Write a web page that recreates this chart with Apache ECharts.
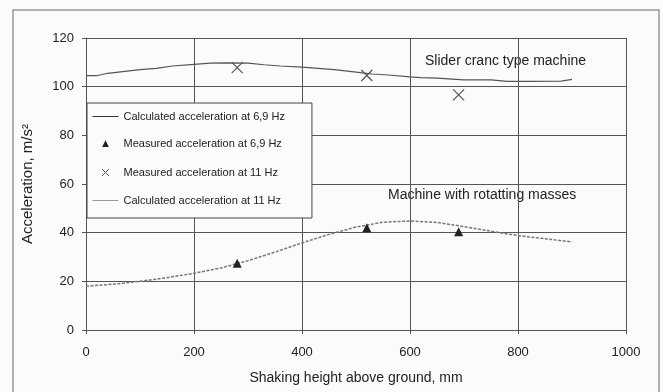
<!DOCTYPE html>
<html><head><meta charset="utf-8">
<script src="https://cdn.jsdelivr.net/npm/echarts@6/dist/echarts.min.js"></script>
<style>html,body{margin:0;padding:0;background:#fbfbfb;}#c{width:663px;height:392px;}</style>
</head><body><div id="c"></div>
<script>
// Data
const calc11Hz = [[0,104.5],[20,104.5],[40,105.5],[60,106],[80,106.5],[100,107],[130,107.5],[160,108.5],[200,109.2],[230,109.7],[260,109.8],[300,109.7],[330,109],[360,108.5],[400,108],[430,107.5],[460,107],[500,106],[530,105.2],[560,104.8],[600,104],[620,103.7],[650,103.5],[700,102.8],[750,102.8],[780,102.2],[820,102.2],[880,102.3],[900,103]];
const calc69Hz = [[0,18],[30,18.5],[60,19],[100,20],[150,21.5],[200,23.3],[250,25.5],[300,28.5],[350,32],[400,35.8],[450,39.3],[500,42.3],[550,44.3],[600,44.8],[650,44.2],[700,42.5],[750,40.6],[800,38.8],[850,37.5],[900,36.2]];
const meas69Hz = [[280,27.4],[520,42],[690,40.4]];
const meas11Hz = [[280,107.8],[520,104.6],[690,96.6]];
const seriesNames = ['Calculated acceleration at 6,9 Hz','Measured acceleration at 6,9 Hz','Measured acceleration at 11 Hz','Calculated acceleration at 11 Hz'];
const xTitle = 'Shaking height above ground, mm';
const yTitle = 'Acceleration, m/s\u00B2';
const annotUpper = 'Slider cranc type machine';
const annotLower = 'Machine with rotatting masses';

const font = 'Liberation Sans, Arial, sans-serif';
const chart = echarts.init(document.getElementById('c'));
const xSym = 'path://M0,0L10,10M10,0L0,10';
const hidden = {color: 'transparent', borderWidth: 0, borderColor: 'transparent'};
chart.setOption({
  backgroundColor: '#fbfbfb',
  animation: false,
  grid: {left: 86, right: 37, top: 38, bottom: 62},
  xAxis: {
    type: 'value', min: 0, max: 1000, interval: 200,
    name: xTitle, nameLocation: 'middle', nameGap: 41,
    nameTextStyle: {fontFamily: font, fontSize: 14, color: '#222'},
    axisLine: {lineStyle: {color: '#555', width: 1}},
    axisTick: {show: true, length: 4, lineStyle: {color: '#555'}},
    axisLabel: {fontFamily: font, fontSize: 13, color: '#222', margin: 16, formatter: v => String(v)},
    splitLine: {show: true, lineStyle: {color: '#555', width: 1}}
  },
  yAxis: {
    type: 'value', min: 0, max: 120, interval: 20,
    name: yTitle, nameLocation: 'middle', nameGap: 51,
    nameTextStyle: {fontFamily: font, fontSize: 15, color: '#222'},
    axisLine: {show: true, lineStyle: {color: '#555', width: 1}},
    axisTick: {show: true, length: 4, lineStyle: {color: '#555'}},
    axisLabel: {fontFamily: font, fontSize: 13, color: '#222', margin: 12, formatter: v => String(v)},
    splitLine: {show: true, lineStyle: {color: '#555', width: 1}}
  },
  legend: {
    orient: 'vertical', left: 87, top: 103,
    padding: [8, 27, 12, 5],
    itemGap: 16, itemWidth: 26, itemHeight: 12,
    borderColor: '#444', borderWidth: 1, backgroundColor: '#fbfbfb',
    textStyle: {fontFamily: font, fontSize: 11, color: '#222'},
    data: [
      {name: seriesNames[0], itemStyle: hidden, lineStyle: {type: 'solid', color: '#333', width: 1}},
      {name: seriesNames[1], icon: 'path://M0,0M16,16M8,3L12.5,12L3.5,12Z', itemStyle: {color: '#222'}},
      {name: seriesNames[2], icon: 'path://M0,0M14,14M3,3L11,11M11,3L3,11', itemStyle: {color: 'transparent', borderColor: '#555', borderWidth: 1}},
      {name: seriesNames[3], itemStyle: hidden, lineStyle: {type: 'solid', color: '#999', width: 1}}
    ]
  },
  graphic: [
    {type: 'rect', shape: {x: 13, y: 10, width: 646, height: 390}, style: {fill: 'none', stroke: '#999', lineWidth: 1.5}, z: -1},
    {type: 'text', left: 425, top: 54, style: {text: annotUpper, font: '14px ' + font, fill: '#222'}},
    {type: 'text', left: 388, top: 188, style: {text: annotLower, font: '14px ' + font, fill: '#222'}}
  ],
  series: [
    {name: seriesNames[0], type: 'line', data: calc69Hz, symbol: 'none',
     lineStyle: {color: '#777', width: 1.5, type: [3, 1.5]}, itemStyle: {color: '#333'}, z: 3},
    {name: seriesNames[1], type: 'scatter', data: meas69Hz, symbol: 'triangle', symbolSize: 9,
     itemStyle: {color: '#222', opacity: 1}, z: 5},
    {name: seriesNames[2], type: 'scatter', data: meas11Hz, symbol: xSym, symbolSize: 11,
     itemStyle: {color: 'none', borderColor: '#555', borderWidth: 1.2, opacity: 1}, z: 5},
    {name: seriesNames[3], type: 'line', data: calc11Hz, symbol: 'none',
     lineStyle: {color: '#555', width: 1.2}, itemStyle: {color: '#888'}, z: 3}
  ]
});
</script></body></html>
